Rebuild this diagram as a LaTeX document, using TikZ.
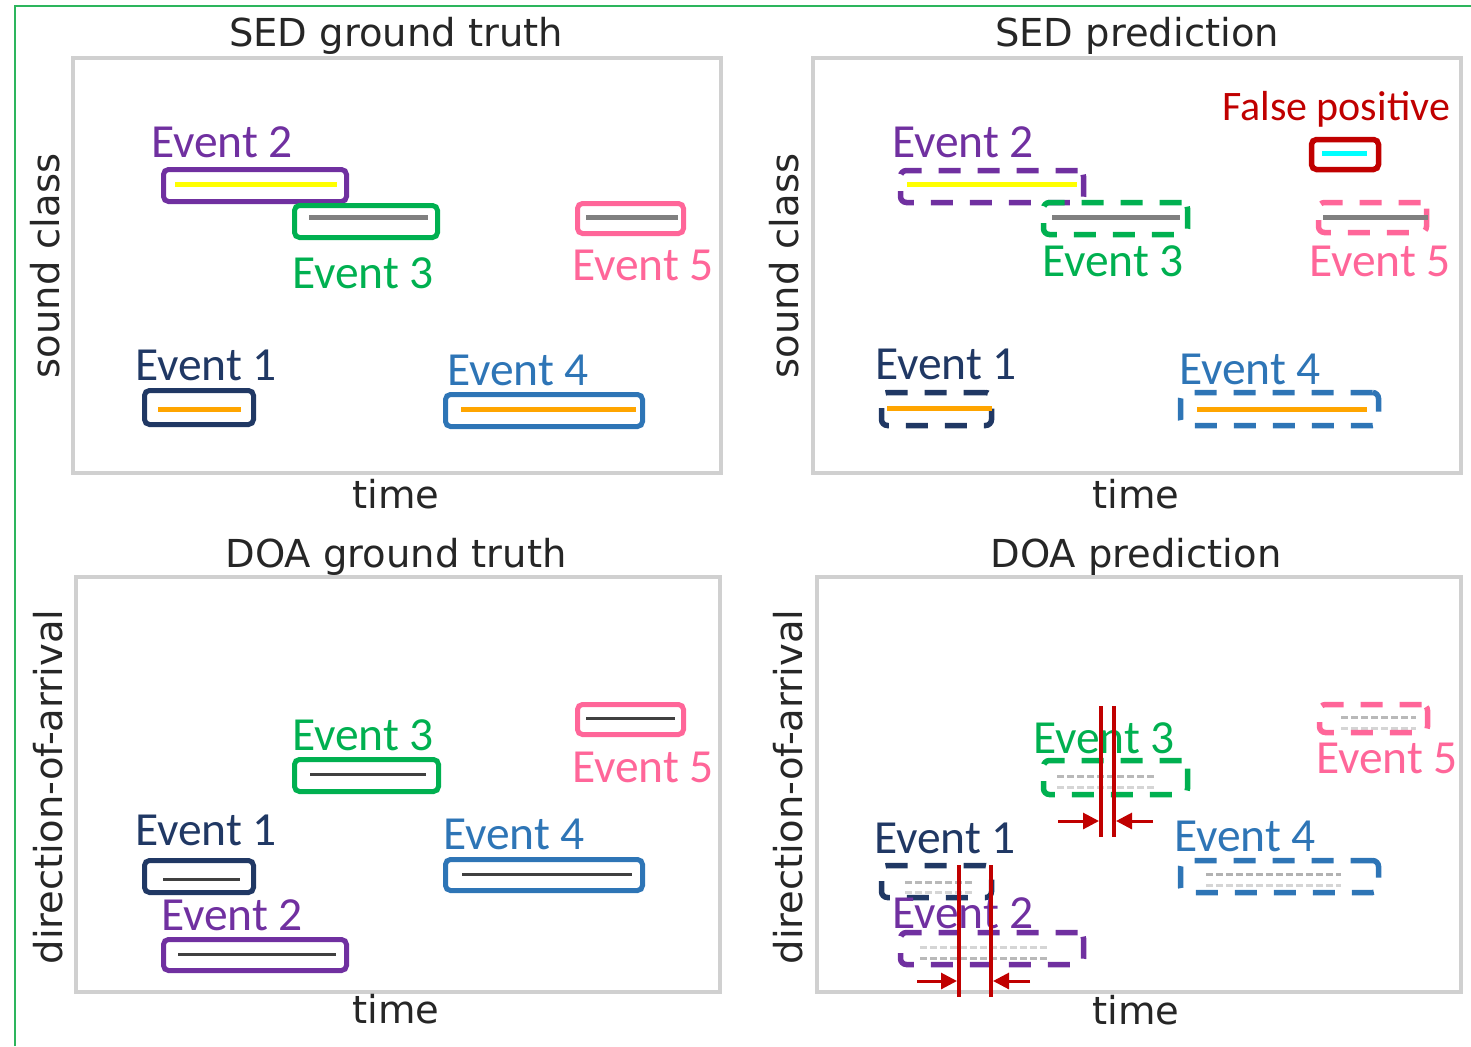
\documentclass[tikz,border=0pt]{standalone}
\usepackage{fontspec}
\setmainfont{DejaVu Sans}
\newfontfamily\evfont{Carlito}
\usetikzlibrary{arrows.meta}

\definecolor{framegreen}{HTML}{2DB55D}
\definecolor{panelgray}{HTML}{D0D0D0}
\definecolor{textdark}{HTML}{262626}
\definecolor{evone}{HTML}{203864}
\definecolor{evtwo}{HTML}{7030A0}
\definecolor{evthree}{HTML}{00B050}
\definecolor{evfour}{HTML}{2E75B6}
\definecolor{evfive}{HTML}{FF6699}
\definecolor{fpred}{HTML}{C00000}
\definecolor{sedyellow}{HTML}{FFFF00}
\definecolor{sedgray}{HTML}{808080}
\definecolor{sedorange}{HTML}{FFA500}
\definecolor{sedcyan}{HTML}{00FFFF}
\definecolor{doaline}{HTML}{404040}

\tikzset{
  panel/.style={draw=panelgray, line width=3.5pt},
  ttl/.style={font=\fontsize{38.5}{42}\selectfont, text=textdark, inner sep=0pt, anchor=base},
  ylab/.style={font=\fontsize{38.5}{42}\selectfont, text=textdark, inner sep=0pt, anchor=base, rotate=90},
  evlab/.style={font=\evfont\fontsize{47.5}{52}\selectfont, inner sep=0pt, anchor=base, text=#1},
  gtbox/.style={draw=#1, line width=5pt, rounded corners=5pt, inner sep=0pt, rectangle},
  prbox/.style={draw=#1, line width=5.5pt, rounded corners=6pt, inner sep=0pt, rectangle,
                dash pattern=on 22pt off 17pt},
  sedline/.style={draw=#1, line width=5pt},
  doagt/.style={draw=doaline, line width=3pt},
  smudge/.style={draw=black!55, line width=3pt, opacity=#1, dash pattern=on 7pt off 3pt},
  smudge/.default=0.3,
  cutline/.style={draw=fpred, line width=4pt},
  cutarrow/.style={draw=fpred, line width=3pt, -{Triangle[length=16pt,width=16pt]}},
}

\begin{document}
\begin{tikzpicture}[x=1pt, y=-1pt]
\useasboundingbox (0,0) rectangle (1471,1046);

% outer frame
\draw[framegreen, line width=1.5pt] (15,1046) -- (15,6) -- (1471,6);

% ================= SED ground truth =================
\draw[panel] (73,58) rectangle (721,473);
\node[ttl] (t1) at (396,47) {SED ground truth};
\node[ylab] (y1) at (59,266) {sound class};
\node[ttl] (x1) at (396,508) {time};

\node[gtbox=evtwo, minimum width=183pt, minimum height=32pt] (a2) at (255,185.5) {};
\node[gtbox=evthree, minimum width=143pt, minimum height=32pt] (a3) at (366,221.5) {};
\node[gtbox=evfive, minimum width=106pt, minimum height=30pt] (a5) at (630.5,218.5) {};
\node[gtbox=evone, minimum width=109pt, minimum height=34pt] (a1) at (199,407.5) {};
\node[gtbox=evfour, minimum width=197pt, minimum height=32pt] (a4) at (544,410.5) {};

\draw[sedline=sedyellow] (175,184) -- (337,184);
\draw[sedline=sedgray] (309,217) -- (428,217);
\draw[sedline=sedgray] (586,217) -- (678,217);
\draw[sedline=sedorange] (158,409) -- (241,409);
\draw[sedline=sedorange] (461,409) -- (636,409);

\node[evlab=evtwo] (la2) at (222,157) {Event 2};
\node[evlab=evthree] (la3) at (363,288) {Event 3};
\node[evlab=evfive] (la5) at (643,280) {Event 5};
\node[evlab=evone] (la1) at (206,380) {Event 1};
\node[evlab=evfour] (la4) at (518,385) {Event 4};

% ================= SED prediction =================
\draw[panel] (813,58) rectangle (1461,473);
\node[ttl] (t2) at (1137,47) {SED prediction};
\node[ylab] (y2) at (798,266) {sound class};
\node[ttl] (x2) at (1136,508) {time};

\node[gtbox=fpred, line width=5.5pt, minimum width=67pt, minimum height=30pt] (fp) at (1345,154.5) {};
\draw[sedline=sedcyan] (1322,153) -- (1367,153);
\node[font=\evfont\fontsize{42}{46}\selectfont, text=fpred, inner sep=0pt, anchor=base] (lfp) at (1336,121) {False positive};

\node[prbox=evtwo, minimum width=183pt, minimum height=32pt] (b2) at (992,186.5) {};
\node[prbox=evthree, minimum width=144pt, minimum height=32pt] (b3) at (1115.5,218.5) {};
\node[prbox=evfive, minimum width=108pt, minimum height=30pt] (b5) at (1372.5,217.5) {};
\node[prbox=evone, minimum width=110pt, minimum height=33pt] (b1) at (936.5,409) {};
\node[prbox=evfour, minimum width=198pt, minimum height=33pt] (b4) at (1279.5,409) {};

\draw[sedline=sedyellow] (907,184) -- (1077,184);
\draw[sedline=sedgray] (1052,217) -- (1180,217);
\draw[sedline=sedgray] (1323,217) -- (1428,217);
\draw[sedline=sedorange] (887,408) -- (992,408);
\draw[sedline=sedorange] (1197,409) -- (1367,409);

\node[evlab=evtwo] (lb2) at (963,157) {Event 2};
\node[evlab=evthree] (lb3) at (1113,276) {Event 3};
\node[evlab=evfive] (lb5) at (1380,276) {Event 5};
\node[evlab=evone] (lb1) at (946,379) {Event 1};
\node[evlab=evfour] (lb4) at (1250,384) {Event 4};

% ================= DOA ground truth =================
\draw[panel] (76,577) rectangle (720,992);
\node[ttl] (t3) at (396,567) {DOA ground truth};
\node[ylab] (y3) at (62,787) {direction-of-arrival};
\node[ttl] (x3) at (396,1023) {time};

\node[gtbox=evfive, minimum width=106pt, minimum height=30pt] (c5) at (630.5,719.5) {};
\node[gtbox=evthree, minimum width=144pt, minimum height=32pt] (c3) at (366.5,775.5) {};
\node[gtbox=evone, minimum width=109pt, minimum height=32pt] (c1) at (199,876.5) {};
\node[gtbox=evtwo, minimum width=183pt, minimum height=31pt] (c2) at (255,955) {};
\node[gtbox=evfour, minimum width=197pt, minimum height=31pt] (c4) at (544,875) {};

\draw[doagt] (586,718) -- (675,718);
\draw[doagt] (310,774) -- (426,774);
\draw[doagt] (163,879) -- (240,879);
\draw[doagt] (178,954) -- (336,954);
\draw[doagt] (462,874) -- (632,874);

\node[evlab=evfive] (lc5) at (643,782) {Event 5};
\node[evlab=evthree] (lc3) at (363,750) {Event 3};
\node[evlab=evone] (lc1) at (206,845) {Event 1};
\node[evlab=evtwo] (lc2) at (232,930) {Event 2};
\node[evlab=evfour] (lc4) at (514,849) {Event 4};

% ================= DOA prediction =================
\draw[panel] (817,577) rectangle (1461,992);
\node[ttl] (t4) at (1136,567) {DOA prediction};
\node[ylab] (y4) at (802,787) {direction-of-arrival};
\node[ttl] (x4) at (1136,1024) {time};

% faint predicted tracks
\draw[smudge=0.5] (1341,717) -- (1416,717);
\draw[smudge] (1341,728) -- (1416,728);
\draw[smudge=0.5] (1057,776) -- (1157,776);
\draw[smudge] (1057,787) -- (1157,787);
\draw[smudge=0.5] (905,882) -- (975,882);
\draw[smudge] (905,892) -- (975,892);
\draw[smudge=0.55] (1206,874) -- (1341,874);
\draw[smudge] (1206,885) -- (1341,885);
\draw[smudge] (920,947) -- (1050,947);
\draw[smudge=0.5] (920,958) -- (1050,958);

\node[prbox=evfive, minimum width=108pt, minimum height=28pt] (d5) at (1373.5,718.5) {};
\node[prbox=evthree, minimum width=144pt, minimum height=34pt] (d3) at (1115.5,777.5) {};
\node[prbox=evone, minimum width=110pt, minimum height=32pt] (d1) at (936.5,881.5) {};
\node[prbox=evfour, minimum width=198pt, minimum height=32pt] (d4) at (1279.5,876.5) {};
\node[prbox=evtwo, minimum width=183pt, minimum height=32pt] (d2) at (992,948.5) {};

\node[evlab=evfive] (ld5) at (1387,773) {Event 5};
\node[evlab=evthree] (ld3) at (1104,753) {Event 3};
\node[evlab=evone] (ld1) at (945,853) {Event 1};
\node[evlab=evfour] (ld4) at (1245,851) {Event 4};
\node[evlab=evtwo] (ld2) at (963,928) {Event 2};

% onset/offset markers with arrows
\coordinate (ua) at (1101,706); \coordinate (ub) at (1101,837);
\coordinate (va) at (1114,706); \coordinate (vb) at (1114,837);
\coordinate (pa) at (959,865);  \coordinate (pb) at (959,997);
\coordinate (qa) at (991,865);  \coordinate (qb) at (991,997);
\draw[cutline] (ua) -- (ub);
\draw[cutline] (va) -- (vb);
\draw[cutline] (pa) -- (pb);
\draw[cutline] (qa) -- (qb);

\coordinate (uin) at (1099,821); \coordinate (uout) at (1058,821);
\coordinate (vin) at (1116,821); \coordinate (vout) at (1153,821);
\coordinate (pin) at (957,981);  \coordinate (pout) at (917,981);
\coordinate (qin) at (993,981);  \coordinate (qout) at (1030,981);
\draw[cutarrow] (uout) -- (uin);
\draw[cutarrow] (vout) -- (vin);
\draw[cutarrow] (pout) -- (pin);
\draw[cutarrow] (qout) -- (qin);

\end{tikzpicture}
\end{document}
